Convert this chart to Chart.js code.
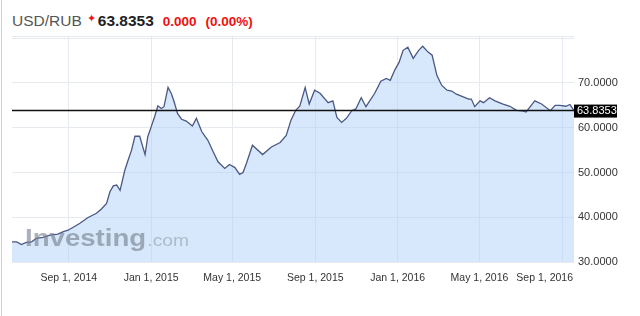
<!DOCTYPE html>
<html>
<head>
<meta charset="utf-8">
<script src="https://cdn.jsdelivr.net/npm/chart.js@4.4.0/dist/chart.umd.min.js"></script>
<style>
html, body { margin: 0; padding: 0; background: #fff; }
#wrap { position: relative; width: 640px; height: 316px; overflow: hidden; font-family: "Liberation Sans", Arial, sans-serif; }
#frame { position: absolute; left: 1px; top: 0; bottom: 0; border-left: 1px solid #cfcfcf; }
#head { position: absolute; left: 12px; top: 9px; line-height: 18px; white-space: nowrap; }
#pair { font-size: 15.5px; color: #555; }
#mark { color: #e8141b; font-size: 11px; vertical-align: 4px; margin-left: 5px; }
#price { font-size: 15.5px; font-weight: bold; color: #222; margin-left: 2px; }
.chg { font-size: 13.5px; font-weight: bold; color: #f01010; margin-left: 9px; }
#chart { position: absolute; left: 0; top: 0; }
</style>
</head>
<body>
<div id="wrap">
  <div id="frame"></div>
  <div id="head"><span id="pair">USD/RUB</span><span id="mark">&#10022;</span><span id="price">63.8353</span><span class="chg">0.000</span><span class="chg">(0.00%)</span></div>
  <canvas id="chart" width="640" height="316"></canvas>
</div>
<script>
// USD/RUB quotes
const dates = [
    '2014-06-09', '2014-06-16', '2014-06-23', '2014-06-30', '2014-07-08', '2014-07-15', '2014-07-25', '2014-08-04',
    '2014-08-16', '2014-08-24', '2014-08-31', '2014-09-07', '2014-09-17', '2014-09-29', '2014-10-12', '2014-10-19',
    '2014-10-27', '2014-11-01', '2014-11-06', '2014-11-11', '2014-11-16', '2014-11-23', '2014-11-28', '2014-12-03',
    '2014-12-08', '2014-12-15', '2014-12-23', '2014-12-27', '2015-01-01', '2015-01-06', '2015-01-11', '2015-01-16',
    '2015-01-20', '2015-01-26', '2015-01-31', '2015-02-04', '2015-02-09', '2015-02-15', '2015-02-22', '2015-03-03',
    '2015-03-09', '2015-03-17', '2015-03-26', '2015-04-03', '2015-04-10', '2015-04-20', '2015-04-27', '2015-05-05',
    '2015-05-12', '2015-05-17', '2015-05-22', '2015-05-31', '2015-06-15', '2015-06-28', '2015-07-11', '2015-07-20',
    '2015-07-27', '2015-08-03', '2015-08-09', '2015-08-17', '2015-08-23', '2015-08-31', '2015-09-08', '2015-09-20',
    '2015-09-27', '2015-10-03', '2015-10-10', '2015-10-17', '2015-10-25', '2015-10-31', '2015-11-08', '2015-11-15',
    '2015-11-28', '2015-12-07', '2015-12-15', '2015-12-21', '2015-12-28', '2016-01-03', '2016-01-09', '2016-01-16',
    '2016-01-24', '2016-02-01', '2016-02-07', '2016-02-15', '2016-02-21', '2016-02-28', '2016-03-06', '2016-03-14',
    '2016-03-21', '2016-03-28', '2016-04-07', '2016-04-15', '2016-04-19', '2016-04-24', '2016-05-02', '2016-05-07',
    '2016-05-16', '2016-05-24', '2016-06-05', '2016-06-15', '2016-06-25', '2016-07-03', '2016-07-09', '2016-07-22',
    '2016-08-01', '2016-08-14', '2016-08-21', '2016-08-28', '2016-09-06', '2016-09-12', '2016-09-18'
];
const rates = [
    34.5, 34.5, 33.9, 34.4, 34.5, 35.3, 35.5, 36.0,
    36.25, 36.8, 37.1, 37.7, 38.6, 39.9, 40.9, 41.8,
    43.1, 45.7, 47.0, 47.2, 46.0, 50.5, 52.8, 55.0,
    58.1, 58.1, 54.0, 58.0, 60.2, 62.4, 64.9, 64.3,
    64.7, 69.0, 67.6, 65.8, 63.2, 61.9, 61.5, 60.4,
    62.1, 59.1, 57.2, 54.6, 52.4, 50.9, 51.8, 51.1,
    49.6, 50.0, 52.0, 56.1, 54.0, 55.7, 56.7, 58.3,
    61.7, 63.9, 64.8, 69.0, 65.3, 68.4, 67.7, 65.6,
    66.0, 62.3, 61.2, 62.1, 63.8, 64.2, 66.7, 64.7,
    67.7, 70.4, 71.0, 70.6, 73.0, 74.6, 77.3, 78.0,
    75.5, 77.3, 78.2, 76.9, 76.2, 71.7, 69.5, 68.4,
    68.2, 67.5, 66.9, 66.4, 66.4, 64.7, 66.0, 65.6,
    66.7, 66.0, 65.3, 64.8, 63.9, 63.8, 63.5, 66.0,
    65.3, 63.8, 65.0, 65.0, 64.8, 65.2, 63.8353
];
const lastPrice = 63.8353;

const tickDates = ['2014-09-01', '2015-01-01', '2015-05-01', '2015-09-01', '2016-01-01', '2016-05-01', '2016-09-01'];
const tickLabels = ['Sep 1, 2014', 'Jan 1, 2015', 'May 1, 2015', 'Sep 1, 2015', 'Jan 1, 2016', 'May 1, 2016', 'Sep 1, 2016'];
const yTicks = [30, 40, 50, 60, 70, 80];
const yLabelMax = 70;

function toDay(s) {
    return Date.parse(s + 'T00:00:00Z') / 86400000;
}

const points = dates.map((d, i) => ({ x: toDay(d), y: rates[i] }));

// extra drawing: top rule, watermark, price line with tag, date labels
const decor = {
    id: 'decor',
    beforeDatasetsDraw(chart) {
        const a = chart.chartArea;
        const ctx = chart.ctx;
        ctx.save();
        ctx.strokeStyle = '#e6e9ef';
        ctx.lineWidth = 1;
        ctx.beginPath();
        ctx.moveTo(a.left, a.top + 0.5);
        ctx.lineTo(a.right, a.top + 0.5);
        ctx.stroke();
        ctx.restore();
    },
    afterDatasetsDraw(chart) {
        const a = chart.chartArea;
        const ctx = chart.ctx;
        const xs = chart.scales.x;
        const py = chart.scales.y.getPixelForValue(lastPrice);

        // watermark, drawn a bit wide like the logo
        ctx.save();
        ctx.translate(a.left + 13, a.bottom - 16);
        ctx.scale(1.2, 1);
        ctx.textBaseline = 'alphabetic';
        ctx.textAlign = 'left';
        ctx.font = 'bold 23px "Liberation Sans", Arial, sans-serif';
        ctx.fillStyle = 'rgba(120,128,142,0.62)';
        ctx.fillText('Investing', 0, 0);
        const w = ctx.measureText('Investing').width;
        ctx.font = '16px "Liberation Sans", Arial, sans-serif';
        ctx.fillStyle = 'rgba(135,143,158,0.5)';
        ctx.fillText('.com', w + 1, 0);
        ctx.restore();

        ctx.save();
        // last price line
        ctx.strokeStyle = '#111';
        ctx.lineWidth = 1.5;
        ctx.beginPath();
        ctx.moveTo(a.left, py);
        ctx.lineTo(a.right, py);
        ctx.stroke();

        ctx.fillStyle = '#000';
        ctx.fillRect(a.right, py - 6, 43, 13);
        ctx.fillStyle = '#fff';
        ctx.font = '11px "Liberation Sans", Arial, sans-serif';
        ctx.textBaseline = 'middle';
        ctx.fillText(lastPrice.toFixed(4), a.right + 3, py + 0.5);

        // date labels, kept inside the plot width
        ctx.fillStyle = '#333';
        ctx.font = '10.5px "Liberation Sans", Arial, sans-serif';
        tickDates.forEach((d, i) => {
            const tw = ctx.measureText(tickLabels[i]).width;
            let cx = xs.getPixelForValue(toDay(d));
            cx = Math.min(cx, a.right - tw / 2 - 1);
            cx = Math.max(cx, a.left + tw / 2);
            ctx.textAlign = 'center';
            ctx.fillText(tickLabels[i], cx, a.bottom + 16);
        });
        ctx.restore();
    }
};

new Chart(document.getElementById('chart'), {
    type: 'line',
    data: {
        datasets: [{
            data: points,
            borderColor: '#4b5883',
            borderWidth: 1.3,
            backgroundColor: 'rgba(175,210,250,0.5)',
            fill: 'start',
            pointRadius: 0,
            tension: 0
        }]
    },
    options: {
        responsive: false,
        animation: false,
        events: [],
        layout: { padding: { left: 12, top: 36, right: 0, bottom: 0 } },
        plugins: {
            legend: { display: false },
            tooltip: { enabled: false }
        },
        scales: {
            x: {
                type: 'linear',
                min: toDay('2014-06-09'),
                max: toDay('2016-09-18'),
                afterBuildTicks: scale => {
                    scale.ticks = tickDates.map(d => ({ value: toDay(d) }));
                },
                afterFit: scale => { scale.height = 54; },
                ticks: { display: false },
                grid: { color: '#e6e9ef', drawTicks: false },
                border: { display: false }
            },
            y: {
                position: 'right',
                min: 30,
                max: 80.5,
                afterBuildTicks: scale => {
                    scale.ticks = yTicks.map(v => ({ value: v }));
                },
                afterFit: scale => { scale.width = 66; },
                ticks: {
                    padding: 4,
                    color: '#333',
                    font: { family: '"Liberation Sans", Arial, sans-serif', size: 11 },
                    callback: v => (v <= yLabelMax ? v.toFixed(4) : '')
                },
                grid: { color: '#e6e9ef', drawTicks: false },
                border: { display: false }
            }
        }
    },
    plugins: [decor]
});
</script>
</body>
</html>
